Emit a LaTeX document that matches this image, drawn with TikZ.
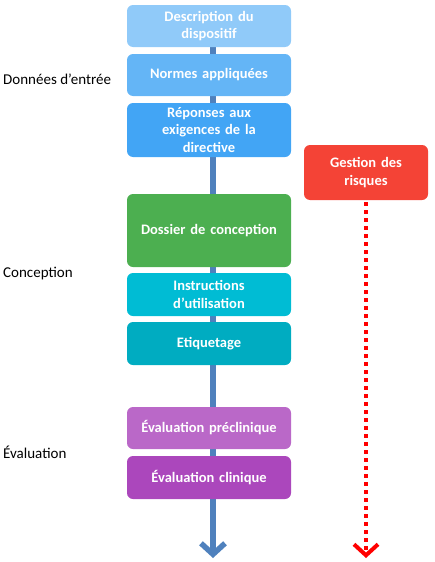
\documentclass[tikz,border=0pt]{standalone}
\usepackage{fontspec}
\setmainfont{Carlito}
\usepackage{xcolor}
\usetikzlibrary{positioning,arrows.meta,backgrounds}

\definecolor{bleuA}{HTML}{90CAF9}
\definecolor{bleuB}{HTML}{64B5F6}
\definecolor{bleuC}{HTML}{42A5F5}
\definecolor{vert}{HTML}{4CAF50}
\definecolor{cyanA}{HTML}{00BCD4}
\definecolor{cyanB}{HTML}{00ACC1}
\definecolor{violA}{HTML}{BA68C8}
\definecolor{violB}{HTML}{AB47BC}
\definecolor{rouge}{HTML}{F44336}
\definecolor{axe}{HTML}{4F81BD}

\tikzset{
  etape/.style={rounded corners=6pt, text=white, font=\bfseries\fontsize{14.5}{17.5}\selectfont,
    minimum width=164pt, text width=158pt, align=center, inner sep=0pt},
  phase/.style={anchor=west, font=\fontsize{15}{17}\selectfont, inner sep=0pt}
}

\begin{document}
\begin{tikzpicture}[x=1pt, y=-1pt]
  \useasboundingbox (0,0) rectangle (435,562);

  % Etapes du dossier
  \node[etape, fill=bleuA, minimum height=42pt] (desc) at (209,26) {Description du\\dispositif};
  \node[etape, fill=bleuB, minimum height=42pt] (normes) at (209,75) {Normes appliquées};
  \node[etape, fill=bleuC, minimum height=54pt] (reponses) at (209,130) {Réponses aux\\exigences de la\\directive};
  \node[etape, fill=vert, minimum height=73pt] (dossier) at (209,230.5) {Dossier de conception};
  \node[etape, fill=cyanA, minimum height=43pt] (instr) at (209,294.5) {Instructions\\d’utilisation};
  \node[etape, fill=cyanB, minimum height=43pt] (etiq) at (209,343.5) {Etiquetage};
  \node[etape, fill=violA, minimum height=42pt] (preclin) at (209,428) {Évaluation préclinique};
  \node[etape, fill=violB, minimum height=43pt] (clin) at (209,477.5) {Évaluation clinique};

  % Gestion des risques
  \node[etape, fill=rouge, minimum width=124pt, text width=118pt, minimum height=55pt] (risques) at (366,172.5) {Gestion des\\risques};

  % Phases
  \node[phase] (entree) at (3,79) {Données d’entrée};
  \node[phase] (concep) at (3,274) {Conception};
  \node[phase] (evalu) at (3,452) {Évaluation};

  % Fleches
  \coordinate (finaxe) at (213,558);
  \coordinate (finrisque) at (366,558);
  \begin{scope}[on background layer]
    \draw[axe, line width=5.5pt, -{Straight Barb[length=11pt, width=24pt]}] (desc.south -| finaxe) -- (finaxe);
  \end{scope}
  \draw[red, line width=4pt, dash pattern=on 4pt off 4pt, -{Straight Barb[length=11pt, width=24pt]}]
    ([yshift=-2pt]risques.south) -- (finrisque);
\end{tikzpicture}
\end{document}
